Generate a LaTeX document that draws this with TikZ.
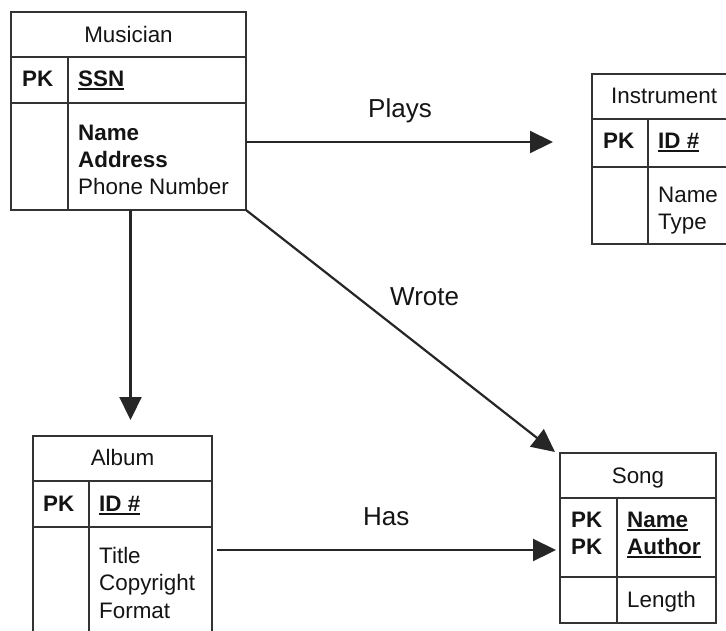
\documentclass[tikz,border=0pt]{standalone}
\usepackage{fontspec}
\setmainfont{Liberation Sans}
\usetikzlibrary{arrows.meta}
\newcommand\ulx[1]{\setbox0=\hbox{#1}\rlap{\rule[-4pt]{\wd0}{1.7pt}}\box0}
\begin{document}
\begin{tikzpicture}[x=1pt,y=-1pt,
  tline/.style={draw=black!80, line width=1.4pt},
  tbox/.style={tline, inner sep=0, outer sep=0, anchor=north west},
  obox/.style={inner sep=0, outer sep=0, anchor=north west},
  arr/.style={draw=black!85, line width=2.2pt, -{Triangle[length=23pt,width=22pt]}},
  tx/.style={inner sep=0, anchor=base west, text=black!92, font=\fontsize{22.4}{27}\selectfont},
  tt/.style={tx, anchor=base},
  bt/.style={tx, font=\fontsize{22.4}{27}\selectfont\bfseries},
  lb/.style={inner sep=0, anchor=base west, text=black!92, font=\fontsize{26}{30}\selectfont}]
\useasboundingbox (0,0) rectangle (726,630);

% Musician
\node[tbox, minimum width=235pt, minimum height=198pt] (mus) at (11,12) {};
\draw[tline] (11,57) -- (246,57) (11,103) -- (246,103) (68,57) -- (68,210);
\node[tt] (musT) at (128.5,42) {Musician};
\node[bt] (musPK) at (22,86) {PK};
\node[bt] (musK) at (78,86) {\ulx{SSN}};
\node[bt] (musA1) at (78,140) {Name};
\node[bt] (musA2) at (78,167) {Address};
\node[tx] (musA3) at (78,194) {Phone Number};

% Instrument (cut at right edge)
\node[obox, minimum width=134pt, minimum height=170pt] (ins) at (592,74) {};
\draw[tline] (727,74) -- (592,74) -- (592,244) -- (727,244);
\draw[tline] (592,119) -- (727,119) (592,167) -- (727,167) (648,119) -- (648,244);
\node[tx] (insT) at (611,103) {Instrument};
\node[bt] (insPK) at (603,148) {PK};
\node[bt] (insK) at (658,148) {\ulx{ID \#}};
\node[tx] (insA1) at (658,202) {Name};
\node[tx] (insA2) at (658,229.5) {Type};

% Album (cut at bottom edge)
\node[obox, minimum width=179pt, minimum height=194pt] (alb) at (33,436) {};
\draw[tline] (33,631) -- (33,436) -- (212,436) -- (212,631);
\draw[tline] (33,481) -- (212,481) (33,527) -- (212,527) (89,481) -- (89,631);
\node[tt] (albT) at (122.5,465) {Album};
\node[bt] (albPK) at (43,511) {PK};
\node[bt] (albK) at (99,511) {\ulx{ID \#}};
\node[tx] (albA1) at (99,563) {Title};
\node[tx] (albA2) at (99,590) {Copyright};
\node[tx] (albA3) at (99,618) {Format};

% Song
\node[tbox, minimum width=156pt, minimum height=170pt] (song) at (560,453) {};
\draw[tline] (560,498) -- (716,498) (560,577) -- (716,577) (617,498) -- (617,623);
\node[tt] (songT) at (638,483) {Song};
\node[bt] (songPK1) at (571,527) {PK};
\node[bt] (songPK2) at (571,554) {PK};
\node[bt] (songK1) at (627,527) {\ulx{Name}};
\node[bt] (songK2) at (627,554) {\ulx{Author}};
\node[tx] (songA1) at (627,607) {Length};

% Connectors
\coordinate (pe) at (553,142);
\draw[arr] (mus.east |- pe) -- (pe);
\coordinate (de) at (130.5,420);
\draw[arr] (mus.south -| de) -- (de);
\coordinate (we) at (555,452);
\draw[arr] (mus.south east) -- (we);
\coordinate (he) at (556,550);
\draw[arr] ([xshift=5pt]alb.east |- he) -- (he);

% Labels
\node[lb] (lplays) at (368,117) {Plays};
\node[lb] (lwrote) at (390,305) {Wrote};
\node[lb] (lhas) at (363,525) {Has};
\end{tikzpicture}
\end{document}
